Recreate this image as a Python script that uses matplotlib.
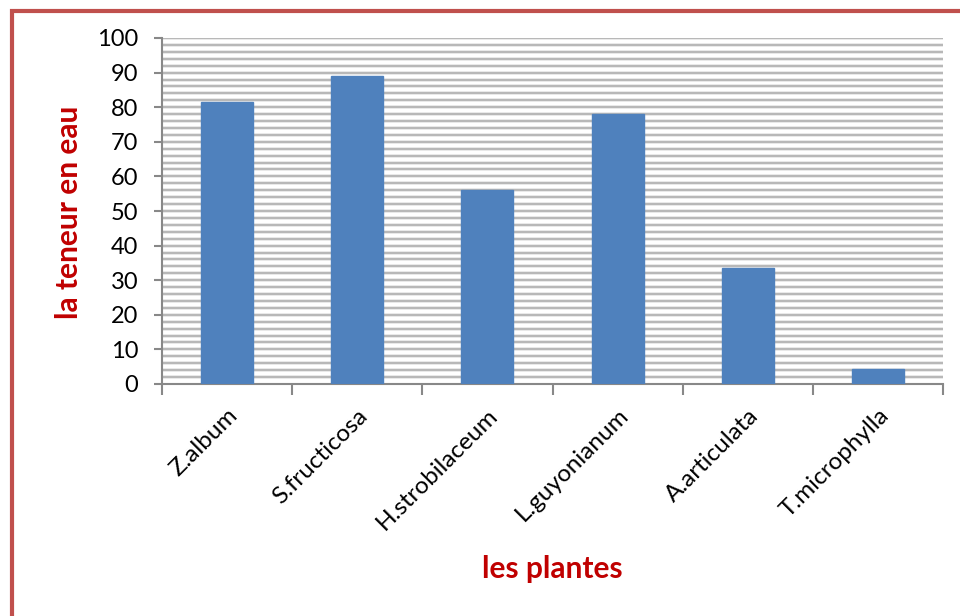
import matplotlib.pyplot as plt
import matplotlib.patches as patches
import numpy as np

plt.rcParams['font.family'] = ['Lato', 'DejaVu Sans']

plantes = ["Z.album", "S.fructicosa", "H.strobilaceum", "L.guyonianum",
           "A.articulata", "T.microphylla"]
teneur = [81.5, 89, 56, 78, 33.5, 4.3]

fig = plt.figure(figsize=(9.6, 6.16), dpi=100)
ax = fig.add_axes([162 / 960, 1 - 384 / 616, 781 / 960, 346 / 616])

x = np.arange(len(plantes))
ax.bar(x, teneur, width=0.4, color="#4F81BD", edgecolor="#4F81BD", zorder=3)

ax.set_xlim(-0.5, len(plantes) - 0.5)
ax.set_ylim(0, 100)

# gridlines every 2 units, like the spreadsheet minor grid
for yv in np.arange(2, 101, 2):
    ax.axhline(yv, color="#e4e4e4", lw=2.6, zorder=1)
    ax.axhline(yv, color="#b0b0b0", lw=1.2, zorder=2)

ax.set_yticks(np.arange(0, 101, 10))
ax.tick_params(axis="y", length=6, width=1.5, color="#888888", labelsize=17, pad=11)

ax.set_xticks(np.arange(-0.5, len(plantes), 1))
ax.set_xticklabels([])
ax.set_xticks(x, minor=True)
ax.set_xticklabels(plantes, minor=True, rotation=45, ha="right",
                   rotation_mode="anchor", fontsize=17.5)
ax.tick_params(axis="x", which="major", length=8, width=1.5, color="#888888")
ax.tick_params(axis="x", which="minor", length=0, pad=15)

for s in ["top", "right"]:
    ax.spines[s].set_visible(False)
for s in ["left", "bottom"]:
    ax.spines[s].set_color("#888888")
    ax.spines[s].set_linewidth(1.5)

fig.text(69 / 960, 1 - 212 / 616, "la teneur en eau", rotation=90,
         ha="center", va="center", fontsize=21.5, fontweight="bold", color="#C00000")
fig.text(552 / 960, 1 - 569 / 616, "les plantes", ha="center", va="center",
         fontsize=21.5, fontweight="bold", color="#C00000")

# frame around the chart area
fig.patches.append(patches.Rectangle((12 / 960, -0.1), 1.2, 1 - 11 / 616 + 0.1,
                                     transform=fig.transFigure, fill=False,
                                     edgecolor="#C0504D", lw=3))

fig.savefig("out.png", dpi=100)
